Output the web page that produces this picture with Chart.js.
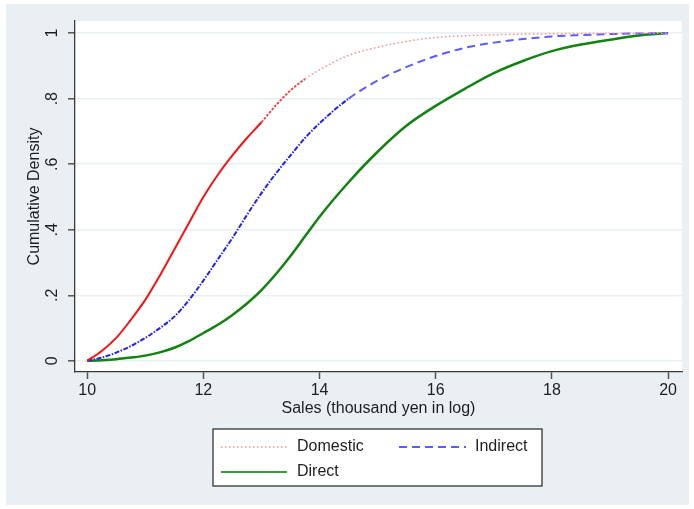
<!DOCTYPE html>
<html>
<head>
<meta charset="utf-8">
<script src="https://cdn.jsdelivr.net/npm/chart.js@4"></script>
<style>
  html, body { margin: 0; padding: 0; background: #ffffff; }
  #wrap { width: 694px; height: 509px; }
</style>
</head>
<body>
<div id="wrap"><canvas id="cdf" width="694" height="509"></canvas></div>
<script>
// ─── Data ────────────────────────────────────────
const salesGrid = [10, 10.25, 10.5, 10.75, 11, 11.25, 11.5, 11.75, 12, 12.25, 12.5, 12.75,
                   13, 13.25, 13.5, 13.75, 14, 14.5, 15, 15.5, 16, 16.5, 17, 17.5, 18, 18.5, 19, 19.5, 20];
const domesticCdf = [0, 0.03, 0.07, 0.125, 0.186, 0.26, 0.34, 0.42, 0.50, 0.568, 0.627, 0.68,
                     0.728, 0.78, 0.825, 0.86, 0.888, 0.932, 0.957, 0.975, 0.987, 0.992, 0.995, 0.997, 0.998, 0.999, 0.999, 1, 1];
const indirectCdf = [0, 0.01, 0.025, 0.045, 0.07, 0.10, 0.135, 0.185, 0.245, 0.31, 0.375, 0.445,
                     0.512, 0.572, 0.627, 0.68, 0.725, 0.80, 0.855, 0.897, 0.93, 0.955, 0.971, 0.982, 0.99, 0.994, 0.997, 0.999, 1];
const directCdf   = [0, 0.002, 0.005, 0.01, 0.016, 0.026, 0.04, 0.06, 0.085, 0.11, 0.14, 0.175,
                     0.216, 0.265, 0.32, 0.38, 0.44, 0.545, 0.638, 0.718, 0.778, 0.83, 0.878, 0.915, 0.945, 0.965, 0.98, 0.993, 1];
const seriesNames = ["Domestic", "Indirect", "Direct"];
const xTicks = [10, 12, 14, 16, 18, 20];
const yTicks = [0, 0.2, 0.4, 0.6, 0.8, 1];
const yTickLabels = ["0", ".2", ".4", ".6", ".8", "1"];
const xTitle = "Sales (thousand yen in log)";
const yTitle = "Cumulative Density";

const FONT = "16px 'Liberation Sans', Arial, sans-serif";
const toPts = (ys) => salesGrid.map((x, i) => ({ x, y: ys[i] }));

// legend samples, same look as the lines' upper (sparse) parts
const legendStyle = [
    { color: "#ff8f8f", dash: [1.5, 2.5], width: 1.5 },
    { color: "#5b5bff", dash: [8, 5],     width: 2 },
    { color: "#3c9c3c", dash: [],         width: 2 }
];

// Stata draws the dense lower part of each ecdf almost solid
function redSeg(c, solid, mid, sparse) {
    const y = c.p0.parsed.y;
    return y < 0.7 ? solid : y < 0.84 ? mid : sparse;
}
function blueSeg(c, dense, sparse) {
    return c.p0.parsed.y < 0.76 ? dense : sparse;
}

// ─────────────────────────────────────────────────
//  Frame, labels and legend
// ─────────────────────────────────────────────────
const stataFrame = {
    id: "stataFrame",
    beforeDraw(chart) {
        const { ctx, chartArea: a } = chart;
        ctx.save();
        ctx.fillStyle = "#ffffff";
        ctx.fillRect(0, 0, chart.width, chart.height);
        ctx.fillStyle = "#e9eff2";
        ctx.fillRect(6, 4, 683, 501);
        ctx.fillStyle = "#ffffff";
        ctx.fillRect(a.left, a.top, a.right - a.left, a.bottom - a.top);
        ctx.restore();
    },
    afterDraw(chart) {
        const { ctx, chartArea: a, scales } = chart;
        ctx.save();
        ctx.fillStyle = "#1e1e1e";
        ctx.font = FONT;

        // x ticks + title
        ctx.textAlign = "center";
        ctx.textBaseline = "middle";
        xTicks.forEach(v => ctx.fillText(String(v), scales.x.getPixelForValue(v), 391));
        ctx.fillText(xTitle, (a.left + a.right) / 2, 409);

        // y ticks + title, rotated
        yTicks.forEach((v, i) => {
            ctx.save();
            ctx.translate(53, scales.y.getPixelForValue(v));
            ctx.rotate(-Math.PI / 2);
            ctx.fillText(yTickLabels[i], 0, 0);
            ctx.restore();
        });
        ctx.save();
        ctx.translate(35, (a.top + a.bottom) / 2);
        ctx.rotate(-Math.PI / 2);
        ctx.fillText(yTitle, 0, 0);
        ctx.restore();

        // legend box
        ctx.fillStyle = "#ffffff";
        ctx.fillRect(213, 429, 329, 57);
        ctx.strokeStyle = "#333333";
        ctx.lineWidth = 1.3;
        ctx.strokeRect(213, 429, 329, 57);
        const slots = [
            { x0: 221, x1: 287, tx: 297, y: 447 },
            { x0: 399, x1: 466, tx: 475, y: 447 },
            { x0: 221, x1: 287, tx: 297, y: 472 }
        ];
        chart.data.datasets.forEach((ds, i) => {
            const s = slots[i], st = legendStyle[i];
            ctx.beginPath();
            ctx.setLineDash(st.dash);
            ctx.strokeStyle = st.color;
            ctx.lineWidth = st.width;
            ctx.moveTo(s.x0, s.y);
            ctx.lineTo(s.x1, s.y);
            ctx.stroke();
            ctx.setLineDash([]);
            ctx.fillStyle = "#1e1e1e";
            ctx.textAlign = "left";
            ctx.fillText(ds.label, s.tx, s.y);
        });
        ctx.restore();
    }
};

// ─────────────────────────────────────────────────
//  Chart
// ─────────────────────────────────────────────────
function init() {
    const ctx = document.getElementById("cdf").getContext("2d");
    new Chart(ctx, {
        type: "line",
        data: {
            datasets: [
                {
                    label: seriesNames[0], data: toPts(domesticCdf), pointRadius: 0,
                    cubicInterpolationMode: "monotone", borderColor: "#ff0000", borderWidth: 2,
                    segment: {
                        borderColor: c => redSeg(c, "#ff1010", "#ff3535", "#ff9090"),
                        borderDash: c => redSeg(c, [], [2.5, 1.5], [1.5, 2.5]),
                        borderWidth: c => redSeg(c, 2, 1.8, 1.5)
                    }
                },
                {
                    label: seriesNames[1], data: toPts(indirectCdf), pointRadius: 0,
                    cubicInterpolationMode: "monotone", borderColor: "#1010ff", borderWidth: 2,
                    segment: {
                        borderColor: c => blueSeg(c, "#2020ff", "#5b5bff"),
                        borderDash: c => blueSeg(c, [5, 1.5, 1.5, 1.5], [8, 5])
                    }
                },
                {
                    label: seriesNames[2], data: toPts(directCdf), pointRadius: 0,
                    cubicInterpolationMode: "monotone", borderColor: "#118311", borderWidth: 2.5
                }
            ]
        },
        options: {
            responsive: false,
            animation: false,
            devicePixelRatio: 1,
            layout: { padding: { left: 0, top: 21, right: 12, bottom: 0 } },
            plugins: { legend: { display: false }, tooltip: { enabled: false } },
            scales: {
                x: {
                    type: "linear", min: 9.79, max: 20.24,
                    afterBuildTicks: s => { s.ticks = xTicks.map(v => ({ value: v })); },
                    afterFit: s => { s.height = 509 - 372; },
                    ticks: { display: false },
                    grid: { color: "rgba(0,0,0,0)", tickColor: "#555555", tickLength: 7, tickWidth: 1.5 },
                    border: { color: "#3a3a3a", width: 1.3 }
                },
                y: {
                    type: "linear", min: -0.034, max: 1.037,
                    afterBuildTicks: s => { s.ticks = yTicks.map(v => ({ value: v })); },
                    afterFit: s => { s.width = 75; },
                    ticks: { display: false },
                    grid: { color: "#e9eff2", lineWidth: 1.6, tickColor: "#555555", tickLength: 7, tickWidth: 1.5 },
                    border: { color: "#3a3a3a", width: 1.3 }
                }
            }
        },
        plugins: [stataFrame]
    });
}
window.addEventListener("DOMContentLoaded", init);
</script>
</body>
</html>
